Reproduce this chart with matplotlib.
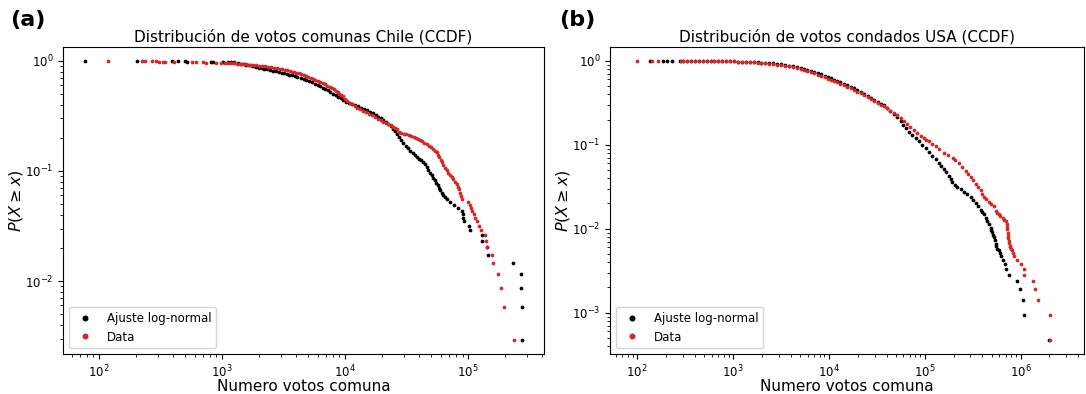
import matplotlib.pyplot as plt

# Chile: votes per commune (CCDF of the data and of the log-normal fit)
chile_data_votes = [
    119, 225, 237, 268, 293, 308, 332, 345, 408, 569,
    621, 704, 741, 893, 981,
    1050, 1120, 1190, 1260, 1330, 1400, 1480, 1560, 1640, 1720,
    1800, 1900, 2000, 2120, 2250, 2380, 2500, 2650, 2800, 2950,
    3100, 3250, 3400, 3550, 3700, 3850, 4000, 4200, 4400, 4600,
    4800, 5000, 5250, 5500, 5750, 6000, 6300, 6600, 6900, 7200,
    7500, 7800, 8100, 8400, 8700, 9000, 9300, 9600, 10000, 10400,
    10900, 11400, 12000, 12600, 13300, 14000, 14800, 15700, 16600, 17500,
    18500, 19500, 20500, 21500, 22500, 23500, 24500, 25500, 26500, 27500,
    28500, 30000, 31500, 33000, 34500, 36000, 37500, 39000, 40500, 42000,
    44000, 46000, 48000, 50000, 52000, 54000, 55500, 57000, 58500, 60000,
    61500, 63000, 65000, 67000, 69000, 71000, 73500, 76000, 78500, 80500,
    82500, 84500, 86000, 87500, 88700,
    100300, 102600, 104600, 107500, 110600, 113700, 118100, 122700, 127400,
    137300, 139100, 141800, 155700, 160400, 176300, 184500, 197000, 238000,
]
chile_data_ccdf = [
    1.0, .9971, .9942, .9913, .9884, .9855, .9826, .9797, .9768, .9739,
    .971, .9681, .9652, .9623, .9594,
    .957, .954, .951, .948, .945, .94, .935, .93, .925, .92,
    .915, .91, .905, .898, .89, .884, .877, .868, .86, .851,
    .843, .834, .822, .81, .80, .79, .78, .768, .756, .742,
    .728, .715, .70, .686, .672, .66, .645, .628, .61, .595,
    .58, .566, .552, .537, .52, .505, .49, .475, .45, .432,
    .418, .403, .39, .376, .362, .35, .34, .332, .322, .31,
    .298, .288, .28, .274, .268, .26, .253, .246, .238, .228,
    .222, .218, .215, .212, .208, .204, .2, .195, .19, .186,
    .181, .177, .17, .164, .158, .153, .148, .14, .133, .126,
    .12, .114, .107, .101, .096, .092, .088, .084, .08, .076,
    .072, .068, .063, .059, .0551,
    .0522, .0493, .0464, .0435, .0406, .0377, .0348, .0319, .029,
    .0261, .0232, .0203, .0174, .0145, .0116, .0087, .0058, .0029,
]

chile_fit_votes = [
    77, 205, 396, 437, 502, 519, 813, 849, 1025, 1112,
    1184, 1259,
    1340, 1420, 1500, 1580, 1660, 1740, 1820, 1900, 2000, 2100,
    2200, 2320, 2450, 2600, 2750, 2900, 3050, 3200, 3350, 3500,
    3700, 3900, 4100, 4350, 4600, 4850, 5100, 5400, 5700, 6000,
    6300, 6600, 6900, 7250, 7600, 8000, 8400, 8800, 9200, 9700,
    10200, 10800, 11400, 12000, 12700, 13400, 14200, 15000, 15900, 16800,
    17700, 18600, 19500, 20500, 21500, 22500, 23500, 24500, 25500, 26500,
    27500, 28500, 29600, 31000, 32500, 34000, 35500, 37000, 38500, 40000,
    41500, 43000, 44500, 46000, 47500, 49000, 50500, 52000, 53500, 55000,
    56500, 58000, 59000, 60900, 63000,
    64800, 67500, 71200, 77200, 83200, 88700, 90500, 91400, 93100, 101600,
    103600, 129000, 129000, 142000, 146000, 233000, 270000, 271000, 273500, 275000,
]
chile_fit_ccdf = [
    1.0, .9971, .9942, .9913, .9884, .9855, .9826, .9797, .9768, .9739,
    .971, .9681,
    .955, .945, .935, .925, .913, .90, .89, .88, .87, .86,
    .85, .84, .828, .815, .803, .792, .781, .77, .76, .75,
    .738, .726, .714, .699, .684, .668, .653, .636, .619, .602,
    .586, .57, .555, .538, .522, .504, .487, .471, .456, .44,
    .425, .413, .404, .396, .386, .376, .366, .355, .344, .333,
    .322, .312, .302, .29, .279, .268, .255, .242, .23, .217,
    .203, .19, .179, .17, .16, .152, .146, .14, .134, .129,
    .125, .12, .115, .109, .102, .096, .091, .086, .082, .078,
    .074, .07, .0665, .063, .061,
    .058, .0551, .0522, .0493, .0464, .0435, .0406, .0377, .0348, .0319,
    .029, .0261, .0232, .0203, .0174, .0145, .0116, .0087, .0058, .0029,
]

# USA: votes per county
usa_data_votes = [
    100, 144, 165, 285,
    300, 330, 365, 400, 440, 485, 530, 585, 640, 700,
    770, 850, 930, 1020, 1120, 1230, 1350, 1490, 1640, 1800,
    1980, 2180, 2400, 2640, 2900, 3190, 3500, 3850, 4240, 4660,
    5080, 5500, 5960, 6460, 7000, 7640, 8320, 9020, 9770, 10470,
    11220, 12160, 13180, 14290, 15490, 16870, 18200, 19720, 21380, 23170,
    25350, 27540, 29850, 32360, 35080, 37240, 40270, 43650, 47320, 51290,
    55980, 60260, 65310, 70790, 76560, 83180, 90570, 97720, 103500, 109600,
    118900, 129700, 141300, 157400, 173800, 195400, 208900, 225400, 245500, 266700,
    285100, 301300, 319900, 339600, 360600, 382800, 398100, 411100, 436500, 463400,
    492000, 522400, 548300, 568900, 590200, 616600, 648600, 676100, 698200, 714500,
    722800, 731100, 736200, 741300, 748200, 755100, 763800, 772700, 779800, 787000,
    819000, 839000, 851000, 908000, 1016000, 1080000, 1080000, 1340000, 1430000, 1530000,
    2020000, 2030000,
]
usa_data_ccdf = [
    1.0, .99953, .99906, .99858,
    .9989, .9981, .9976, .9972, .9962, .9953, .9943, .9934, .9915, .9905,
    .9896, .9886, .9877, .9848, .981, .9763, .9715, .9649, .9583, .951,
    .943, .9355, .926, .9145, .902, .888, .8725, .857, .838, .819,
    .797, .775, .753, .731, .71, .687, .661, .638, .614, .595,
    .577, .555, .533, .512, .492, .472, .452, .431, .411, .392,
    .372, .352, .333, .315, .299, .288, .271, .254, .238, .224,
    .208, .194, .178, .1636, .151, .1383, .1256, .1192, .1143, .1099,
    .1029, .0959, .0887, .0802, .0755, .0703, .066, .0613, .0549, .0492,
    .0446, .041, .0376, .0344, .0315, .0288, .0262, .0241, .0224, .021,
    .0196, .0185, .0161, .0154, .0148, .0142, .0134, .0128, .0123, .0113,
    .01054, .00986, .00902, .00824, .0077, .00722, .00676, .00631, .00603, .00578,
    .00566, .00519, .00472, .00425, .00377, .0033, .00283, .00236, .00189, .00142,
    .00094, .00047,
]

usa_fit_votes = [
    136, 188, 204, 233, 280,
    300, 330, 365, 400, 440, 485, 530, 585, 640, 700,
    770, 850, 930, 1020, 1120, 1230, 1350, 1490, 1640, 1800,
    1980, 2180, 2400, 2640, 2900, 3190, 3500, 3850, 4240, 4660,
    5080, 5500, 5960, 6460, 7000, 7640, 8320, 9020, 9770, 10470,
    11220, 12160, 13180, 14290, 15490, 16870, 18200, 19720, 21380, 23170,
    25350, 27540, 29850, 32360, 35080, 37240, 40270, 43650, 47420, 51290,
    55980, 59570, 63240, 68390, 74300, 80350, 87100, 94410, 102100, 110900,
    119900, 130300, 140600, 149600, 158500, 168700, 178600, 186200, 194100, 206500,
    218800, 237100, 256400, 278600, 301300, 319900, 339600, 360600, 382800, 398100,
    414000, 431500, 449800, 467700, 486400, 496600, 507000, 516400, 527200, 537000,
    548300, 559800, 571500,
    600000, 604000, 630000, 660000, 681000, 698000, 750000, 924000, 984000, 1067000,
    1090000, 1970000,
]
usa_fit_ccdf = [
    1.0, .99953, .99906, .99858, .99811,
    .9981, .9978, .9973, .9968, .9962, .9955, .9946, .9934, .9924, .9905,
    .9886, .9867, .9848, .9829, .9801, .9763, .9725, .9677, .964, .9592,
    .9545, .9488, .942, .9335, .922, .9087, .8935, .8764, .8571, .838,
    .818, .797, .777, .757, .736, .716, .688, .663, .638, .617,
    .598, .574, .554, .532, .513, .492, .47, .448, .427, .407,
    .386, .365, .345, .326, .308, .296, .274, .2525, .232, .2124,
    .1928, .1729, .1568, .144, .1314, .1205, .1099, .1003, .0918, .0819,
    .0736, .067, .0613, .056, .0515, .0469, .0429, .0393, .0359, .0335,
    .0315, .0294, .0274, .0257, .0241, .022, .0202, .0185, .0169, .0157,
    .0148, .0134, .0123, .01126, .01031, .00964, .00904, .00849, .00791, .00726,
    .0066, .00618, .00578,
    .00566, .00519, .00472, .00425, .00377, .0033, .00283, .00236, .00189, .00142,
    .00094, .00047,
]

FIT_COLOR = 'k'
DATA_COLOR = 'tab:red'

fig = plt.figure(figsize=(10.86, 3.94), dpi=100)
ax_a = fig.add_axes([0.058, 0.101, 0.443, 0.780])
ax_b = fig.add_axes([0.5617, 0.101, 0.4365, 0.780])

panels = [
    (ax_a, chile_fit_votes, chile_fit_ccdf, chile_data_votes, chile_data_ccdf,
     'Distribución de votos comunas Chile (CCDF)'),
    (ax_b, usa_fit_votes, usa_fit_ccdf, usa_data_votes, usa_data_ccdf,
     'Distribución de votos condados USA (CCDF)'),
]

for ax, fit_x, fit_y, data_x, data_y, title in panels:
    ax.plot(fit_x, fit_y, 'o', color=FIT_COLOR, ms=2.7, mew=0, label='Ajuste log-normal')
    ax.plot(data_x, data_y, 'o', color=DATA_COLOR, ms=2.7, mew=0, label='Data')
    ax.set_xscale('log')
    ax.set_yscale('log')
    ax.set_title(title, fontsize=11, pad=4)
    ax.set_xlabel('Numero votos comuna', fontsize=11, labelpad=-1)
    ax.set_ylabel('$P(X \\geq x)$', fontsize=11.5, labelpad=0)
    ax.tick_params(labelsize=8.5)
    ax.legend(loc='lower left', fontsize=8.5, markerscale=1.6)

ax_b.set_xlim(52, 4.6e6)

fig.text(0.009, 0.935, '(a)', fontsize=16, fontweight='bold')
fig.text(0.515, 0.935, '(b)', fontsize=16, fontweight='bold')

fig.savefig('out.png', dpi=100)
